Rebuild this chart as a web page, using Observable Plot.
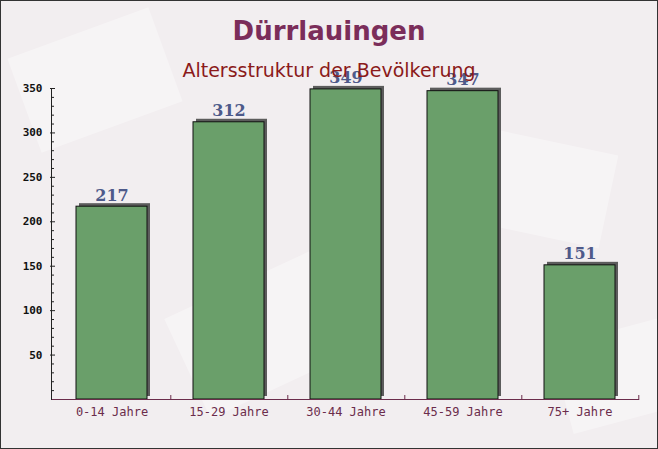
<!DOCTYPE html>
<html><head><meta charset="utf-8">
<script src="https://cdn.jsdelivr.net/npm/d3@7"></script>
<script src="https://cdn.jsdelivr.net/npm/@observablehq/plot@0.6"></script>
<style>
body{margin:0;background:#fff;}
#wrap{position:relative;width:658px;height:449px;background:#f2eef0;overflow:hidden;}
#wrap svg{position:absolute;left:0;top:0;}
#title{position:absolute;left:0;width:658px;top:18px;text-align:center;font-family:"DejaVu Sans",sans-serif;font-weight:bold;font-size:26px;line-height:26px;color:#7b2d5a;}
#subtitle{position:absolute;left:0;width:658px;top:61px;text-align:center;font-family:"DejaVu Sans",sans-serif;font-size:19px;line-height:19px;color:#8b1a1a;}
#border{position:absolute;left:0;top:0;width:658px;height:449px;box-sizing:border-box;border:1px solid #333;pointer-events:none;}
.env{position:absolute;background:rgba(255,255,255,0.35);}
</style></head><body>
<div id="wrap">
<div class="env" style="left:20px;top:30px;width:150px;height:100px;transform:rotate(-20deg)"></div>
<div class="env" style="left:470px;top:140px;width:140px;height:95px;transform:rotate(12deg)"></div>
<div class="env" style="left:180px;top:280px;width:160px;height:110px;transform:rotate(-25deg)"></div>
<div class="env" style="left:560px;top:330px;width:120px;height:90px;transform:rotate(-15deg)"></div>
<div id="chart"></div>
<div id="title">Dürrlauingen</div>
<div id="subtitle">Altersstruktur der Bevölkerung</div>
<div id="border"></div>
</div>
<script>
const categories = ["0-14 Jahre", "15-29 Jahre", "30-44 Jahre", "45-59 Jahre", "75+ Jahre"];
const values = [217, 312, 349, 347, 151];
const yMajorTicks = [50, 100, 150, 200, 250, 300, 350];
const yMinorTicks = [10, 20, 30, 40, 60, 70, 80, 90, 110, 120, 130, 140, 160, 170, 180, 190, 210, 220, 230, 240, 260, 270, 280, 290, 310, 320, 330, 340];

const data = categories.map((c, i) => ({category: c, value: values[i]}));

const W = 658, H = 449, mL = 51, mR = 19, mT = 88, mB = 50;
const band = (W - mL - mR) / categories.length;

const chart = Plot.plot({
  width: W, height: H,
  marginLeft: mL, marginRight: mR, marginTop: mT, marginBottom: mB,
  style: {background: "transparent", overflow: "visible"},
  x: {type: "band", domain: categories, padding: 0, label: null},
  y: {domain: [0, 350], label: null},
  marks: [
    Plot.barY(data, {x: "category", y: "value", insetLeft: 23, insetRight: 23, dx: 3, dy: -3, fill: "#5c5c5c"}),
    Plot.barY(data, {x: "category", y: "value", insetLeft: 23, insetRight: 23, fill: "#6a9f6a", stroke: "#111", strokeWidth: 1}),
    Plot.text(data, {x: "category", y: "value", text: d => String(d.value), lineAnchor: "bottom", dy: -6,
      fontFamily: "DejaVu Serif", fontWeight: "bold", fontSize: 16, fill: "#4e5a8a"}),
    Plot.ruleY([0], {stroke: "#6b2c4b"}),
    Plot.frame({anchor: "left", stroke: "#222"}),
    Plot.axisY({ticks: yMajorTicks, tickSize: 0, tickPadding: 9, label: null,
      fontFamily: "DejaVu Sans Mono", fontWeight: "bold", fontSize: 11, fill: "#111"}),
    Plot.axisY({ticks: yMajorTicks, text: null, tickSize: 5, dx: 4, stroke: "#222", label: null}),
    Plot.axisY({ticks: yMinorTicks, text: null, tickSize: 3, dx: 3, stroke: "#222", label: null}),
    Plot.axisX({tickSize: 0, tickPadding: 8, label: null,
      fontFamily: "DejaVu Sans Mono", fontSize: 12, fill: "#6b2c4b"}),
    Plot.axisX({anchor: "top", text: null, tickSize: 5, dx: band / 2, dy: H - mT - mB, stroke: "#6b2c4b", label: null})
  ]
});
document.getElementById("chart").appendChild(chart);
</script>
</body></html>
